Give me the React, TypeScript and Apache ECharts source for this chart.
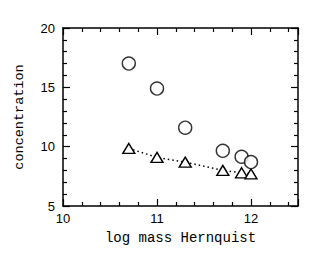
import React, { useEffect, useRef } from "react";
import * as echarts from "echarts";

const logMass = [10.7, 11.0, 11.3, 11.7, 11.9, 12.0];
const concCircles = [17.0, 14.9, 11.6, 9.65, 9.15, 8.7];
const concTriangles = [9.85, 9.1, 8.7, 8.0, 7.8, 7.7];

const xTicks = { min: 10, max: 12.5, interval: 1 };
const yTicks = { min: 5, max: 20, interval: 5 };

export default function App() {
  const ref = useRef<HTMLDivElement>(null);
  useEffect(() => {
    if (!ref.current) return;
    const chart = echarts.init(ref.current, null, { renderer: "svg" });
    const black = "#000";
    const axisCommon = (show: boolean) => ({
      axisLine: { show: true, onZero: false, lineStyle: { color: black, width: 1.5 } },
      axisTick: { show: true, inside: true, length: 7, lineStyle: { color: black, width: 1.2 } },
      minorTick: { show: true, splitNumber: 5, length: 4, lineStyle: { color: black, width: 1.2 } },
      splitLine: { show: false },
      axisLabel: {
        show,
        color: black,
        fontFamily: "Liberation Sans",
        fontSize: 13,
      },
    });
    const cData = logMass.map((x, i) => [x, concCircles[i]]);
    const tData = logMass.map((x, i) => [x, concTriangles[i]]);
    chart.setOption({
      animation: false,
      backgroundColor: "#fff",
      grid: { left: 63, right: 34, top: 28, bottom: 51, containLabel: false },
      xAxis: [
        {
          type: "value",
          position: "bottom",
          ...xTicks,
          ...axisCommon(true),
          axisLabel: { ...axisCommon(true).axisLabel, margin: 6, showMaxLabel: false },
          name: "log mass Hernquist",
          nameLocation: "middle",
          nameGap: 25,
          nameTextStyle: { color: black, fontFamily: "Liberation Mono", fontSize: 14 },
        },
        { type: "value", position: "top", ...xTicks, ...axisCommon(false) },
      ],
      yAxis: [
        {
          type: "value",
          position: "left",
          ...yTicks,
          ...axisCommon(true),
          axisLabel: { ...axisCommon(true).axisLabel, margin: 8 },
          name: "concentration",
          nameLocation: "middle",
          nameGap: 37,
          nameTextStyle: { color: black, fontFamily: "Liberation Mono", fontSize: 13.5 },
        },
        { type: "value", position: "right", ...yTicks, ...axisCommon(false) },
      ],
      series: [
        {
          type: "line",
          data: tData,
          symbol: "triangle",
          symbolSize: [12, 10],
          lineStyle: { color: black, width: 1.5, type: [1.5, 3] },
          itemStyle: { color: "#fff", borderColor: black, borderWidth: 1.4 },
          z: 2,
        },
        {
          type: "scatter",
          data: cData,
          symbol: "circle",
          symbolSize: 13,
          itemStyle: { color: "#fff", borderColor: black, borderWidth: 1.4 },
          z: 3,
        },
      ],
    });
    return () => chart.dispose();
  }, []);
  return <div ref={ref} style={{ width: 332, height: 257, position: "absolute", left: 0, top: 0 }} />;
}
